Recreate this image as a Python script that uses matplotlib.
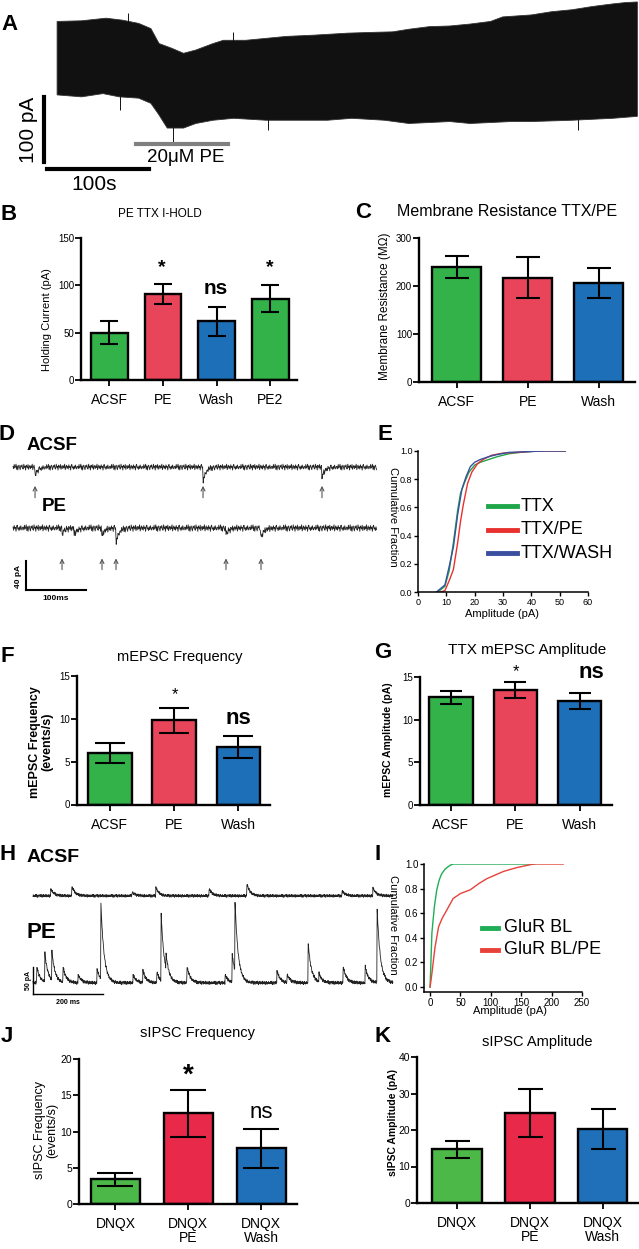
import numpy as np
import matplotlib
matplotlib.use('Agg')
import matplotlib.pyplot as plt
from matplotlib.lines import Line2D

plt.rcParams['font.family'] = ['Liberation Sans', 'DejaVu Sans']

# ---------------- DATA ----------------
# Panel A: holding-current trace envelope (time s, current pA)
a_top_t = [0, 24, 48, 64, 80, 92, 100, 112, 124, 136, 153, 163, 185, 205, 225, 253, 285, 305,
           329, 345, 365, 385, 405, 425, 437, 465, 485, 505, 525, 545, 557, 569]
a_top_i = [167, 168, 172, 169, 164, 156, 133, 126, 118, 123, 133, 138, 138, 141, 144, 146, 149, 150,
           151, 155, 159, 160, 163, 167, 174, 177, 182, 185, 190, 194, 196, 197]
a_bot_t = [0, 24, 45, 61, 80, 92, 100, 108, 124, 136, 153, 173, 205, 233, 265, 289, 321, 345,
           385, 405, 445, 465, 505, 545, 569]
a_bot_i = [54, 51, 56, 51, 49, 41, 23, 3, 3, 10, 15, 18, 15, 15, 15, 18, 15, 10,
           13, 10, 13, 13, 15, 18, 21]
a_spike_t = [62, 70, 114, 172, 207, 511]
a_spike_i = [31, 180, -18, 150, 0, 0]

# Panel B
b_cats = ['ACSF', 'PE', 'Wash', 'PE2']
b_mean = [50, 91, 62, 86]
b_sem = [12, 10.6, 15, 14.5]
# Panel C
c_cats = ['ACSF', 'PE', 'Wash']
c_mean = [240, 217, 206]
c_sem = [23, 43, 31.5]

# Panel D: mEPSC example traces (event time ms, amplitude pA)
d_acsf_t = [36.7, 316.7, 515]
d_acsf_a = [12, 20, 14]
d_pe_t = [81.7, 101.7, 148, 171.7, 355, 413]
d_pe_a = [8, 10, 11, 20, 9, 14]
d_acsf_arrows = [36.7, 316.7, 515]
d_pe_arrows = [81.7, 148.3, 171.7, 355, 413.3]
noise_pattern = [0.2, -0.5, 0.8, -0.3, 0.1, 0.9, -0.7, 0.4, -0.9, 0.3, 0.6, -0.2, -0.8, 0.5,
                 0.0, 0.7, -0.4, -0.6, 0.9, -0.1, 0.3, -0.9, 0.6, 0.2, -0.3, 0.8, -0.7, 0.1,
                 0.5, -0.5, 0.4, -0.2, 0.9, -0.8, 0.0, 0.6, -0.4, 0.3, -0.6, 0.7, -0.1, 0.2,
                 -0.9, 0.5, 0.8, -0.3, 0.1, -0.7, 0.35, -0.45, 0.65, -0.15, -0.55, 0.25]

# Panel E: cumulative amplitude distributions
e_ttx_x = [7, 9.5, 11, 12.5, 14, 15, 16.5, 18, 20, 22, 25, 28, 32, 36, 42, 52]
e_ttx_y = [0, 0.04, 0.15, 0.35, 0.58, 0.70, 0.78, 0.85, 0.90, 0.92, 0.94, 0.96, 0.98, 0.99, 1.0, 1.0]
e_pe_x = [8, 9.5, 11, 12.5, 14, 15, 16, 17.5, 19, 21, 23, 26, 30, 35, 42, 52]
e_pe_y = [0, 0.01, 0.08, 0.16, 0.35, 0.50, 0.62, 0.77, 0.85, 0.91, 0.94, 0.97, 0.985, 0.99, 1.0, 1.0]
e_wash_x = [6.5, 9.5, 11, 12.5, 14, 15.5, 17, 18.5, 20, 22, 25, 28, 32, 38, 45, 52]
e_wash_y = [0, 0.05, 0.18, 0.32, 0.55, 0.73, 0.82, 0.89, 0.92, 0.94, 0.96, 0.975, 0.99, 0.995, 1.0, 1.0]

# Panel F / G
f_cats = ['ACSF', 'PE', 'Wash']
f_mean = [6.0, 9.85, 6.7]
f_sem = [1.17, 1.45, 1.25]
g_mean = [12.6, 13.5, 12.2]
g_sem = [0.78, 0.95, 0.9]

# Panel H: sIPSC example traces (event time ms, amplitude pA)
h_acsf_t = [51, 111, 283, 351, 503, 611, 883, 971]
h_acsf_a = [13, 18, 7, 15, 13, 22, 9, 15]
h_pe_t = [11, 34, 54, 86, 129, 183, 194, 286, 314, 354, 366, 380, 440, 549, 569, 577, 697,
          726, 786, 817, 886, 949, 983]
h_pe_a = [30, 52, 52, 28, 15, 26, 141, 15, 22, 19, 122, 28, 31, 15, 52, 130, 22,
          15, 74, 15, 31, 30, 137]

# Panel I
i_bl_x = [0, 3, 7, 11, 15, 19, 25, 33, 38, 100, 172]
i_bl_y = [0, 0.44, 0.65, 0.79, 0.87, 0.92, 0.96, 0.99, 1.0, 1.0, 1.0]
i_pe_x = [0, 3, 8, 14, 20, 28, 38, 50, 66, 80, 93, 107, 121, 142, 170, 219]
i_pe_y = [0, 0.11, 0.32, 0.49, 0.56, 0.63, 0.72, 0.76, 0.79, 0.84, 0.88, 0.91, 0.94, 0.97, 1.0, 1.0]

# Panel J / K
j_cats = ['DNQX', 'DNQX\nPE', 'DNQX\nWash']
j_mean = [3.4, 12.5, 7.7]
j_sem = [0.85, 3.25, 2.7]
k_mean = [14.7, 24.6, 20.2]
k_sem = [2.3, 6.5, 5.5]

# ---------------- FIGURE ----------------
W, H = 639, 1249
fig = plt.figure(figsize=(W / 100, H / 100), dpi=100)


def axpx(l, t, r, b):
    return fig.add_axes([l / W, 1 - b / H, (r - l) / W, (b - t) / H])


def ftext(x, y, s, **kw):
    kw.setdefault('ha', 'center')
    kw.setdefault('va', 'center')
    return fig.text(x / W, 1 - y / H, s, **kw)


def fline(x1, x2, y1, y2, **kw):
    fig.add_artist(Line2D([x1 / W, x2 / W], [1 - y1 / H, 1 - y2 / H],
                          transform=fig.transFigure, **kw))


G1, R1, B1 = '#33b24a', '#e8455a', '#1d6fb8'
G2, R2, B2 = '#4cb848', '#e8294a', '#1f70b8'


def bar_panel(box, cats, means, sems, colors, ymax, ystep, xlim, width, capsize,
              yfs=7, xfs=10):
    ax = axpx(*box)
    x = np.arange(len(cats))
    ax.bar(x, means, width=width, color=colors, edgecolor='black', linewidth=1.7, zorder=2)
    ax.errorbar(x, means, yerr=sems, fmt='none', ecolor='black', elinewidth=1.5,
                capsize=capsize, capthick=1.5, zorder=3)
    ax.set_xlim(*xlim)
    ax.set_ylim(0, ymax)
    ax.set_xticks(x)
    ax.set_xticklabels(cats, fontsize=xfs, linespacing=1.0)
    ax.set_yticks(np.arange(0, ymax + 1e-9, ystep))
    ax.tick_params(axis='y', labelsize=yfs, pad=1)
    ax.tick_params(axis='x', pad=5.5)
    for s in ['top', 'right']:
        ax.spines[s].set_visible(False)
    for s in ['left', 'bottom']:
        ax.spines[s].set_linewidth(1.7)
    ax.tick_params(direction='out', length=4, width=1.3)
    ax.patch.set_alpha(0)
    return ax


# ---- Panel A ----
axA = axpx(0, 0, 639, 200)
axA.set_xlim(-56, 570.6)
axA.set_ylim(-107.7, 200)
axA.axis('off')
poly_t = list(a_top_t) + list(a_bot_t)[::-1]
poly_i = list(a_top_i) + list(a_bot_i)[::-1]
axA.fill(poly_t, poly_i, color='#111111', lw=0.6, ec='#333333')
axA.vlines(a_spike_t, 90, a_spike_i, color='#111111', lw=0.7)
axA.plot([-12.7, -12.7], [-48.7, 51.3], color='black', lw=3)
axA.plot([-10, 90], [-60, -60], color='black', lw=3)
axA.plot([77, 168], [-21.5, -21.5], color='#808080', lw=3)
ftext(29, 130, '100 pA', rotation=90, fontsize=15)
ftext(94, 185, '100s', fontsize=15)
ftext(186, 157, '20\u03bcM PE', fontsize=13.5)

# ---- Panel B ----
axB = bar_panel((81, 238, 297, 380), b_cats, b_mean, b_sem, [G1, R1, B1, G1],
                150, 50, (-0.53, 3.5), 0.69, 6.8)
ftext(160, 214, 'PE TTX I-HOLD', fontsize=8.5)
ftext(47, 320, 'Holding Current (pA)', rotation=90, fontsize=8)
ftext(162, 268, '*', fontsize=14, fontweight='bold')
ftext(215.5, 289, 'ns', fontsize=15, fontweight='bold')
ftext(270, 268, '*', fontsize=14, fontweight='bold')

# ---- Panel C ----
axC = bar_panel((419, 238, 635, 382), c_cats, c_mean, c_sem, [G1, R1, B1],
                300, 100, (-0.53, 2.51), 0.69, 8.4)
ftext(507, 212, 'Membrane Resistance TTX/PE', fontsize=11.5)
ftext(385, 306, 'Membrane Resistance (M\u03a9)', rotation=90, fontsize=8.5)

# ---- Panel D ----
axD = axpx(0, 425, 385, 605)
axD.set_xlim(-21.7, 620)
axD.set_ylim(0, 248)
axD.axis('off')
td = np.arange(0, 607, 1.0)
npat = np.array(noise_pattern)


def trace(t, base, ev_t, ev_a, tau, sign, noise_amp, shift):
    y = base + noise_amp * np.resize(np.roll(npat, shift), t.size)
    for te, a in zip(ev_t, ev_a):
        m = t >= te
        y[m] += sign * a * np.exp(-(t[m] - te) / tau)
    return y


axD.plot(td, trace(td, 190, d_acsf_t, d_acsf_a, 5, -1, 4.5, 0), color='#222222', lw=0.6)
axD.plot(td, trace(td, 106, d_pe_t, d_pe_a, 5, -1, 5.0, 17), color='#222222', lw=0.6)
for t in d_acsf_arrows:
    axD.annotate('', xy=(t, 168), xytext=(t, 144),
                 arrowprops=dict(arrowstyle='->', color='#555555', lw=0.8, mutation_scale=7))
for t in d_pe_arrows:
    axD.annotate('', xy=(t, 68), xytext=(t, 45),
                 arrowprops=dict(arrowstyle='->', color='#555555', lw=0.8, mutation_scale=7))
axD.plot([21.7, 21.7], [20.7, 60.7], color='black', lw=1.5)
axD.plot([21.7, 121.7], [20.7, 20.7], color='black', lw=1.5)
ftext(27, 445, 'ACSF', fontsize=13.5, fontweight='bold', ha='left')
ftext(42, 506, 'PE', fontsize=13.5, fontweight='bold', ha='left')
ftext(18, 576, '40 pA', rotation=90, fontsize=6, fontweight='bold')
ftext(56, 598, '100ms', fontsize=6, fontweight='bold')

# ---- Panel E ----
axE = axpx(418, 451, 588, 592)
axE.plot(e_ttx_x, e_ttx_y, color='#1fa64a', lw=1.0)
axE.plot(e_pe_x, e_pe_y, color='#e8312f', lw=1.0)
axE.plot(e_wash_x, e_wash_y, color='#3a4fa0', lw=1.0)
axE.set_xlim(0, 60)
axE.set_ylim(0, 1)
axE.set_xticks(range(0, 61, 10))
axE.set_yticks([0, 0.2, 0.4, 0.6, 0.8, 1.0])
axE.set_yticklabels(['0.0', '0.2', '0.4', '0.6', '0.8', '1.0'])
axE.tick_params(labelsize=6.5, length=3, width=1, pad=1)
for s in ['top', 'right']:
    axE.spines[s].set_visible(False)
for s in ['left', 'bottom']:
    axE.spines[s].set_linewidth(1.1)
axE.patch.set_alpha(0)
ftext(393, 517, 'Cumulative Fraction', rotation=270, fontsize=8)
ftext(502, 614, 'Amplitude (pA)', fontsize=8)
for yy, col, lab in [(506, '#1fa64a', 'TTX'), (530, '#e8312f', 'TTX/PE'), (553, '#3a4fa0', 'TTX/WASH')]:
    fline(488, 517, yy, yy, color=col, lw=3.5)
    ftext(521, yy, lab, fontsize=13, ha='left')

# ---- Panel F ----
axF = bar_panel((77, 676, 270, 804.5), f_cats, f_mean, f_sem, [G1, R1, B1],
                15, 5, (-0.51, 2.49), 0.68, 10.8)
ftext(180, 657, 'mEPSC Frequency', fontsize=10.5)
ftext(41, 742, 'mEPSC Frequency\n(events/s)', rotation=90, fontsize=9, fontweight='bold',
      linespacing=1.0)
ftext(174.5, 695, '*', fontsize=12)
ftext(238.5, 718, 'ns', fontsize=16, fontweight='bold')

# ---- Panel G ----
axG = bar_panel((420, 677, 612, 805), f_cats, g_mean, g_sem, [G1, R1, B1],
                15, 5, (-0.48, 2.5), 0.67, 7.8)
ftext(527, 650, 'TTX mEPSC Amplitude', fontsize=11)
ftext(388, 740, 'mEPSC Amplitude (pA)', rotation=90, fontsize=7.5, fontweight='bold')
ftext(516, 672, '*', fontsize=12)
ftext(591, 673, 'ns', fontsize=16, fontweight='bold')

# ---- Panel H ----
axH = axpx(0, 845, 395, 1005)
axH.set_xlim(-94.3, 1034)
axH.set_ylim(0, 296)
axH.axis('off')
th = np.arange(0, 1029, 1.0)
axH.plot(th, trace(th, 202, h_acsf_t, h_acsf_a, 9, 1, 3.0, 5), color='#222222', lw=0.6)
axH.plot(th, trace(th, 41, h_pe_t, h_pe_a, 9, 1, 3.5, 29), color='#222222', lw=0.6)
axH.plot([0, 0], [20.4, 70.4], color='black', lw=1.0)
axH.plot([0, 200], [20.4, 20.4], color='black', lw=1.0)
ftext(27, 858, 'ACSF', fontsize=14, fontweight='bold', ha='left')
ftext(27, 932, 'PE', fontsize=16, fontweight='bold', ha='left')
ftext(29, 980, '50 pA', rotation=90, fontsize=5, fontweight='bold')
ftext(68, 1002, '200 ms', fontsize=5, fontweight='bold')

# ---- Panel I ----
axI = axpx(424, 864, 582, 992)
axI.plot(i_bl_x, i_bl_y, color='#1fae55', lw=1.0)
axI.plot(i_pe_x, i_pe_y, color='#e8413a', lw=1.0)
axI.set_xlim(-10, 250)
axI.set_ylim(-0.04, 1.0)
axI.set_xticks(range(0, 251, 50))
axI.set_yticks([0, 0.2, 0.4, 0.6, 0.8, 1.0])
axI.set_yticklabels(['0.0', '0.2', '0.4', '0.6', '0.8', '1.0'])
axI.tick_params(labelsize=7, length=3, width=1, pad=1)
for s in ['top', 'right']:
    axI.spines[s].set_visible(False)
for s in ['left', 'bottom']:
    axI.spines[s].set_linewidth(1.1)
axI.patch.set_alpha(0)
ftext(393, 925, 'Cumulative Fraction', rotation=270, fontsize=8)
ftext(510, 1011, 'Amplitude (pA)', fontsize=8)
for yy, col, lab in [(928, '#1fae55', 'GluR BL'), (950, '#e8413a', 'GluR BL/PE')]:
    fline(482, 498, yy, yy, color=col, lw=3.5)
    ftext(504, yy, lab, fontsize=13, ha='left')

# ---- Panel J ----
axJ = bar_panel((79, 1059, 297, 1204), j_cats, j_mean, j_sem, [G2, R2, B2],
                20, 5, (-0.5, 2.49), 0.67, 12.8, yfs=7.5)
ftext(198, 1033, 'sIPSC Frequency', fontsize=10.5)
ftext(46, 1130, 'sIPSC Frequency\n(events/s)', rotation=90, fontsize=9, linespacing=1.0)
ftext(188, 1076, '*', fontsize=20, fontweight='bold')
ftext(261.5, 1113, 'ns', fontsize=16)

# ---- Panel K ----
axK = bar_panel((417, 1057, 639, 1203), j_cats, k_mean, k_sem, [G2, R2, B2],
                40, 10, (-0.55, 2.5), 0.68, 9, yfs=7.5)
ftext(537, 1042, 'sIPSC Amplitude', fontsize=10.5)
ftext(393, 1123, 'sIPSC Amplitude (pA)', rotation=90, fontsize=7.5, fontweight='bold')

# ---- Panel letters ----
for lab, x, y in [('A', 10, 25), ('B', 9, 214), ('C', 363, 212), ('D', 7, 435), ('E', 385, 435),
                  ('F', 7, 657), ('G', 383, 653), ('H', 8, 855), ('I', 378, 855),
                  ('J', 7, 1037), ('K', 383, 1037)]:
    ftext(x, y, lab, fontsize=16, fontweight='bold')

fig.savefig('out.png', dpi=100)
